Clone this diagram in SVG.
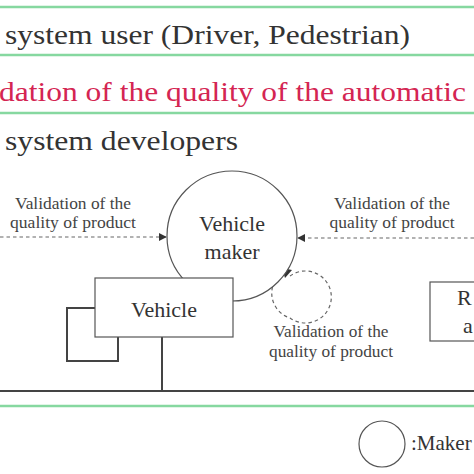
<svg xmlns="http://www.w3.org/2000/svg" width="474" height="474" viewBox="0 0 474 474">
<style>
.g{stroke:#86d8a0;stroke-width:2.5;fill:none}
.t{font-family:"Liberation Serif",serif;fill:#333}
.s{font-family:"Liberation Serif",serif;fill:#444;font-size:16px;text-anchor:middle}
.n{fill:#fff;stroke:#555;stroke-width:1.2}
.d{stroke:#666;stroke-width:1.2;stroke-dasharray:3.5 3;fill:none}
.k{stroke:#444;stroke-width:2;fill:none}
</style>
<defs>
<marker id="ah" viewBox="0 0 10 10" refX="9" refY="5" markerWidth="8" markerHeight="8" markerUnits="userSpaceOnUse" orient="auto">
<path d="M0,0 L10,5 L0,10 z" fill="#333"/>
</marker>
</defs>
<rect width="474" height="474" fill="#fff"/>
<g id="bands">
<line class="g" x1="0" y1="7" x2="474" y2="7"/>
<line class="g" x1="0" y1="55" x2="474" y2="55"/>
<line class="g" x1="0" y1="113" x2="474" y2="113"/>
<line class="g" x1="0" y1="406" x2="474" y2="406"/>
<text class="t" x="5" y="44" font-size="27" textLength="405" lengthAdjust="spacingAndGlyphs">system user (Driver, Pedestrian)</text>
<text class="t" x="-1" y="101" font-size="27" style="fill:#d42552" textLength="467" lengthAdjust="spacingAndGlyphs">dation of the quality of the automatic</text>
<text class="t" x="5" y="150" font-size="27" textLength="233" lengthAdjust="spacingAndGlyphs">system developers</text>
</g>
<g id="connectors">
<line class="d" x1="0" y1="237" x2="166" y2="237" marker-end="url(#ah)"/>
<line class="d" x1="474" y1="238" x2="298" y2="238" marker-end="url(#ah)"/>
<path class="d" d="M290,276 A26,26 0 1 1 290,318 A26,26 0 0 1 286,270"/>
<path d="M282,268 L292,270 L285,278 z" fill="#333"/>
<polyline class="k" points="95,308 67,308 67,361 118,361 118,337"/>
<line class="k" x1="162" y1="337" x2="162" y2="391"/>
<line class="k" x1="0" y1="391" x2="474" y2="391"/>
</g>
<g id="maker">
<circle class="n" cx="232" cy="236" r="65"/>
<text class="t" x="232" y="231" font-size="22" text-anchor="middle">Vehicle</text>
<text class="t" x="232" y="259" font-size="22" text-anchor="middle">maker</text>
</g>
<g id="vehicle">
<rect class="n" x="95" y="278" width="138" height="59"/>
<text class="t" x="164" y="317" font-size="22" text-anchor="middle">Vehicle</text>
</g>
<g id="road">
<rect class="n" x="430" y="282" width="60" height="59"/>
<text class="t" x="457" y="305" font-size="22">R</text>
<text class="t" x="463" y="333" font-size="22">a</text>
</g>
<g id="labels">
<text class="s" x="73" y="209" textLength="116" lengthAdjust="spacingAndGlyphs">Validation of the</text>
<text class="s" x="73" y="228" textLength="126" lengthAdjust="spacingAndGlyphs">quality of product</text>
<text class="s" x="392" y="209" textLength="116" lengthAdjust="spacingAndGlyphs">Validation of the</text>
<text class="s" x="392" y="228" textLength="125" lengthAdjust="spacingAndGlyphs">quality of product</text>
<text class="s" x="331" y="337" textLength="115" lengthAdjust="spacingAndGlyphs">Validation of the</text>
<text class="s" x="331" y="357" textLength="124" lengthAdjust="spacingAndGlyphs">quality of product</text>
</g>
<g id="legend">
<circle cx="382" cy="444" r="23" fill="none" stroke="#555" stroke-width="1.2"/>
<text class="t" x="411" y="450" font-size="21">:Maker</text>
</g>
</svg>
